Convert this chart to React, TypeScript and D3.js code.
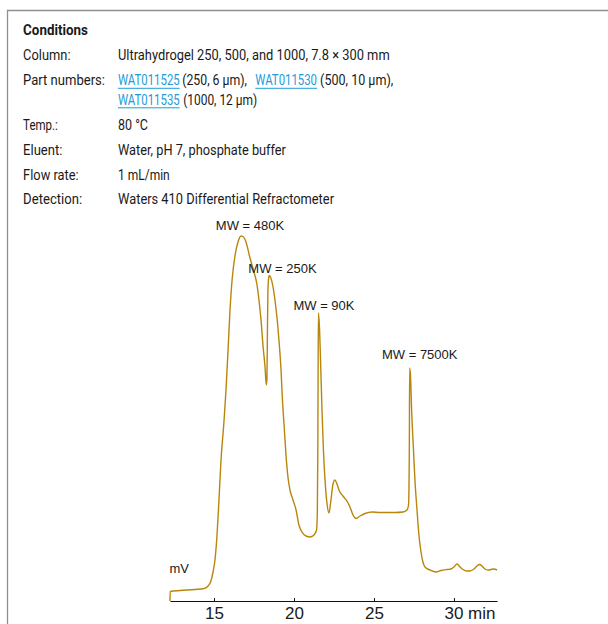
import React, { useEffect, useLayoutEffect, useRef } from "react";
import * as d3 from "d3";

// Chromatogram trace: retention time (min) and detector response (arbitrary mV units)
const times = [
  12.25, 12.26, 12.88, 13.81, 14.38, 14.63, 14.81, 14.94, 15.06, 15.19, 15.31, 15.44, 15.63, 15.75, 15.88,
  16.0, 16.13, 16.31, 16.5, 16.69, 16.81, 17.0, 17.25, 17.5, 17.69, 17.81, 17.94, 18.06, 18.19, 18.27,
  18.31, 18.34, 18.37, 18.41, 18.46, 18.53, 18.69, 18.81, 18.94, 19.06, 19.19, 19.28, 19.38, 19.5, 19.63,
  19.75, 19.94, 20.13, 20.31, 20.5, 20.75, 21.0, 21.25, 21.41, 21.46, 21.49, 21.51, 21.53, 21.6, 21.66,
  21.75, 21.84, 21.94, 22.06, 22.19, 22.31, 22.44, 22.56, 22.69, 22.81, 23.06, 23.31, 23.5, 23.69, 23.88,
  24.13, 24.44, 24.88, 25.38, 26.31, 26.81, 27.06, 27.16, 27.21, 27.23, 27.28, 27.36, 27.47, 27.56, 27.69,
  27.81, 27.94, 28.06, 28.19, 28.5, 28.88, 29.19, 29.56, 29.81, 30.0, 30.19, 30.38, 30.56, 30.81, 31.0,
  31.25, 31.44, 31.59, 31.75, 31.94, 32.13, 32.31, 32.5, 32.69,
];
const signal = [
  0, 9.5, 10.5, 11.5, 12.5, 15, 20, 29, 41, 66, 101, 141, 181, 211, 251,
  291, 321, 345, 359, 365, 364.5, 359, 343, 329, 316, 301, 281, 256, 234, 216,
  222, 270, 310, 322, 325.5, 324, 314, 301, 283, 261, 231, 201, 176, 146, 123,
  111, 101, 91, 76, 69, 65, 64, 66, 71, 90, 150, 240, 288, 271, 241,
  191, 151, 121, 98, 88, 101, 117, 121, 117, 111, 105, 100, 94, 86, 82.5,
  85, 87.5, 89, 88.5, 88.5, 89, 91, 96, 151, 233, 226, 188, 151, 121, 91,
  66, 49, 39, 34, 31, 29, 30.5, 31.5, 32, 34, 37, 34, 31.5, 30, 30,
  32, 35, 36.5, 35, 32, 31, 31.5, 32, 31,
];

// Peak annotations
const peakLabels = ["MW = 480K", "MW = 250K", "MW = 90K", "MW = 7500K"];
const peakLabelTimes = [17.25, 19.28, 21.875, 27.86];
const peakLabelValues = [371, 328, 291, 242];

const xTicks = [15, 20, 25, 30];
const timeDomain = [12.25, 32.69];
const signalDomain = [0, 400];

const condLabels = ["Column:", "Part numbers:", "Temp.:", "Eluent:", "Flow rate:", "Detection:"];

const TEXT = "#1a1a1a";
const LINK = "#1e9bd7";
const TRACE = "#b8860b";

// Text squeezed horizontally to a target width (condensed look)
function FitText(props: any) {
  const ref = useRef<SVGTextElement | null>(null);
  useLayoutEffect(() => {
    const el = ref.current;
    if (!el) return;
    const natural = el.getComputedTextLength();
    const s = natural > 0 ? props.w / natural : 1;
    el.setAttribute("transform", `translate(${props.x},${props.y}) scale(${s},1)`);
  }, [props.x, props.y, props.w]);
  return (
    <text
      ref={ref}
      x={0}
      y={0}
      transform={`translate(${props.x},${props.y}) scale(0.85,1)`}
      fontFamily="Roboto, 'Noto Sans', sans-serif"
      fontSize={14.5}
      fill={props.fill || TEXT}
      fontWeight={props.bold ? 700 : 400}
    >
      {props.children}
    </text>
  );
}

function Link(props: any) {
  return (
    <g>
      <FitText x={props.x} y={props.y} w={props.w} fill={LINK}>
        {props.children}
      </FitText>
      <line
        x1={props.x}
        x2={props.x + props.w}
        y1={props.y + 3.3}
        y2={props.y + 3.3}
        stroke={LINK}
        strokeWidth={1}
      />
    </g>
  );
}

export default function App() {
  const axisRef = useRef<SVGGElement | null>(null);

  const x = d3.scaleLinear().domain(timeDomain).range([170, 497]);
  const y = d3.scaleLinear().domain(signalDomain).range([601, 201]);

  const pts: [number, number][] = times.map((t, i) => [t, signal[i]]);
  const line = d3
    .line<[number, number]>()
    .x((d) => x(d[0]))
    .y((d) => y(d[1]))
    .curve(d3.curveMonotoneX);

  useEffect(() => {
    if (!axisRef.current) return;
    const g = d3.select(axisRef.current);
    g.selectAll("*").remove();
    const axis = d3
      .axisBottom(x)
      .tickValues(xTicks)
      .tickSizeInner(-3)
      .tickSizeOuter(0)
      .tickPadding(6)
      .tickFormat((d) => (d === 30 ? "30 min" : String(d)));
    g.call(axis as any);
    g.select(".domain").attr("stroke", "#111").attr("stroke-width", 1.2);
    g.selectAll(".tick line").attr("stroke", "#111");
    g.selectAll(".tick text")
      .attr("font-family", "'Liberation Sans', Arial, sans-serif")
      .attr("font-size", 17)
      .attr("fill", TEXT);
    g.selectAll<SVGTextElement, number>(".tick text")
      .filter((d) => d === 30)
      .attr("text-anchor", "start")
      .attr("x", -10);
    g.attr("font-family", null).attr("font-size", null);
  }, []);

  const rowY = [60, 85, 130, 155, 179.5, 204];
  const labelW = [47.4, 81.8, 34.7, 39.3, 55.5, 59];
  const LX = 23.1;
  const VX = 118;

  return (
    <svg
      width={608}
      height={624}
      style={{ position: "absolute", left: 0, top: 0, display: "block", background: "#fff" }}
    >
      <path d="M7.5,624 V10.5 H608" fill="none" stroke="#8f8f8f" strokeWidth={1.3} />

      <FitText x={LX} y={34.5} w={64.8} bold>
        Conditions
      </FitText>
      {condLabels.map((l, i) => (
        <FitText key={l} x={LX} y={rowY[i]} w={labelW[i]}>
          {l}
        </FitText>
      ))}
      <FitText x={VX} y={60} w={271.5}>
        Ultrahydrogel 250, 500, and 1000, 7.8 × 300 mm
      </FitText>
      <Link x={VX} y={85} w={61.7}>
        WAT011525
      </Link>
      <FitText x={182.2} y={85} w={64.8}>
        (250, 6 μm),
      </FitText>
      <Link x={255.3} y={85} w={61.7}>
        WAT011530
      </Link>
      <FitText x={320.1} y={85} w={73.2}>
        (500, 10 μm),
      </FitText>
      <Link x={VX} y={104.5} w={61.7}>
        WAT011535
      </Link>
      <FitText x={183.2} y={104.5} w={74}>
        (1000, 12 μm)
      </FitText>
      <FitText x={VX} y={130} w={30}>
        80 °C
      </FitText>
      <FitText x={VX} y={155} w={167.8}>
        Water, pH 7, phosphate buffer
      </FitText>
      <FitText x={VX} y={179.5} w={51.7}>
        1 mL/min
      </FitText>
      <FitText x={VX} y={204} w={216}>
        Waters 410 Differential Refractometer
      </FitText>

      <path d={line(pts) || ""} fill="none" stroke={TRACE} strokeWidth={1.4} strokeLinejoin="round" />

      {peakLabels.map((l, i) => (
        <text
          key={l}
          x={x(peakLabelTimes[i])}
          y={y(peakLabelValues[i])}
          textAnchor="middle"
          fontFamily="'Liberation Sans', Arial, sans-serif"
          fontSize={13}
          fill={TEXT}
        >
          {l}
        </text>
      ))}

      <text x={169.5} y={573} fontFamily="'Liberation Sans', Arial, sans-serif" fontSize={13} fill={TEXT}>
        mV
      </text>

      <g ref={axisRef} transform="translate(0,601)" />
    </svg>
  );
}
